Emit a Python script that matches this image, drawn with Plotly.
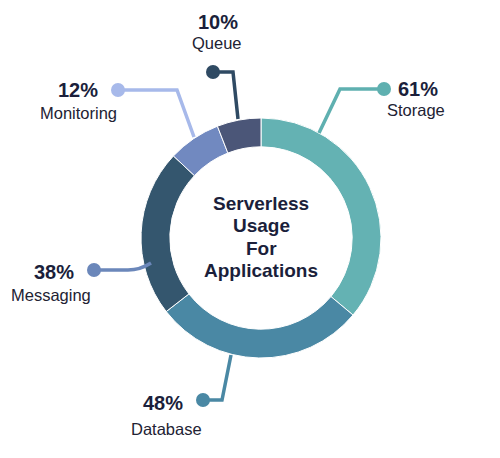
import plotly.graph_objects as go

labels = ["Storage", "Database", "Messaging", "Monitoring", "Queue"]
values = [61, 48, 38, 12, 10]
pct_text = ["61%", "48%", "38%", "12%", "10%"]
title_lines = ["Serverless", "Usage", "For", "Applications"]

slice_colors = ["#64b2b3", "#4a88a4", "#34566e", "#7189c0", "#4b5678"]
leader_colors = ["#5fb0b0", "#4a88a4", "#6b87ba", "#a7b9ea", "#2f4a63"]

# page body has an 8px margin, so the figure is placed at (8, 8)
OFF = 8
W, H = 500, 458
FW, FH = W - OFF, H - OFF
FONT = "Liberation Sans, Arial, sans-serif"
DARK = "#1b1f3b"

# leader line paths (window pixel coords, y down): ring -> elbow -> dot
leader_paths = [
    "M 319 133 L 340 89 L 384 89",
    "M 231 355 L 222 400 L 203 400",
    "M 151 263 Q 140 270 128 270 L 94 270",
    "M 194 137 L 177 90 L 118 90",
    "M 238 119 L 233 72 L 213 72",
]
dot_pos = [(384, 89), (203, 400), (94, 270), (118, 90), (213, 72)]
pct_pos = [(418, 89), (163, 403), (54, 272), (78, 90), (218, 22)]
name_pos = [(416, 110), (166, 429), (51, 295), (78, 113), (217, 43)]

fig = go.Figure()

# invisible overlay axes spanning the visible window in pixels
fig.add_trace(go.Scatter(x=[OFF, W], y=[OFF, H], mode="markers",
                         marker=dict(opacity=0), hoverinfo="skip", showlegend=False))

fig.add_trace(go.Pie(
    labels=labels, values=values, sort=False, direction="clockwise", rotation=0,
    hole=0.76, textinfo="none", showlegend=False,
    marker=dict(colors=slice_colors, line=dict(color="white", width=1)),
    domain=dict(x=[(141 - OFF) / FW, (381 - OFF) / FW],
                y=[(H - 358) / FH, (H - 118) / FH]),
))

shapes = []
for i in range(len(labels)):
    shapes.append(dict(type="path", path=leader_paths[i], xref="x", yref="y",
                       line=dict(color=leader_colors[i], width=3.5), layer="above"))
    cx, cy = dot_pos[i]
    r = 7
    shapes.append(dict(type="circle", xref="x", yref="y", x0=cx - r, x1=cx + r,
                       y0=cy - r, y1=cy + r, fillcolor=leader_colors[i],
                       line=dict(width=0), layer="above"))

annotations = []
for i in range(len(labels)):
    annotations.append(dict(x=pct_pos[i][0], y=pct_pos[i][1], xref="x", yref="y",
                            text="<b>" + pct_text[i] + "</b>", showarrow=False,
                            font=dict(family=FONT, size=20, color=DARK)))
    annotations.append(dict(x=name_pos[i][0], y=name_pos[i][1], xref="x", yref="y",
                            text=labels[i], showarrow=False,
                            font=dict(family=FONT, size=16.5, color="#222233")))

title_y = [203, 225.5, 248, 270.5]
for t, ty in zip(title_lines, title_y):
    annotations.append(dict(x=261, y=ty, xref="x", yref="y", text="<b>" + t + "</b>",
                            showarrow=False, font=dict(family=FONT, size=19, color=DARK)))

fig.update_layout(
    width=FW, height=FH, margin=dict(l=0, r=0, t=0, b=0),
    paper_bgcolor="white", plot_bgcolor="white",
    xaxis=dict(range=[OFF, W], visible=False, fixedrange=True),
    yaxis=dict(range=[H, OFF], visible=False, fixedrange=True),
    shapes=shapes, annotations=annotations,
)

fig.write_html("out.html")
